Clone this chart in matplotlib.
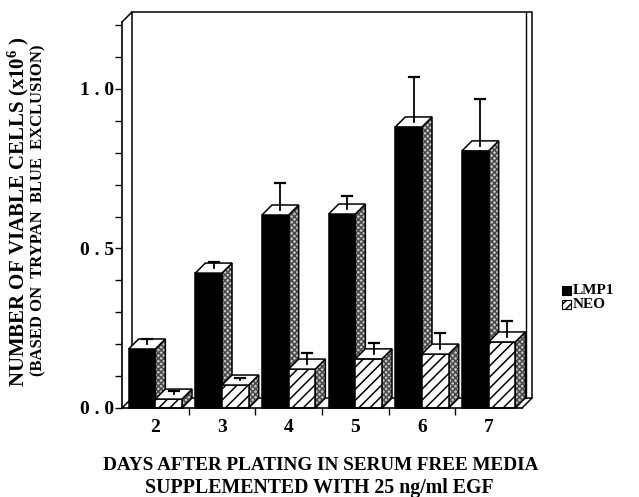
import matplotlib
matplotlib.use('Agg')
import matplotlib.pyplot as plt
from matplotlib.patches import Polygon, Rectangle
from matplotlib.lines import Line2D

# ---------------- data ----------------
days = [2, 3, 4, 5, 6, 7]
lmp1 = [0.185, 0.423, 0.605, 0.608, 0.881, 0.806]
lmp1_err = [0.015, 0.020, 0.085, 0.040, 0.141, 0.147]
neo = [0.028, 0.072, 0.122, 0.154, 0.169, 0.207]
neo_err = [0.010, 0.005, 0.034, 0.034, 0.050, 0.050]
y_major = [0.0, 0.5, 1.0]
y_major_labels = ['0 . 0', '0 . 5', '1 . 0']
y_minor = [0.1, 0.2, 0.3, 0.4, 0.6, 0.7, 0.8, 0.9, 1.1, 1.2]
series_names = ['LMP1', 'NEO']

plt.rcParams['font.family'] = ['Liberation Serif', 'DejaVu Serif']
plt.rcParams['font.weight'] = 'bold'
plt.rcParams['mathtext.fontset'] = 'custom'
plt.rcParams['mathtext.rm'] = 'Liberation Serif:bold'
plt.rcParams['mathtext.bf'] = 'Liberation Serif:bold'
plt.rcParams['mathtext.default'] = 'rm'
plt.rcParams['hatch.linewidth'] = 1.1

W, H = 639, 497
fig = plt.figure(figsize=(W / 100, H / 100), dpi=100)

L, R, B, T = 122, 522, 408, 22
ax = fig.add_axes([L / W, (H - B) / H, (R - L) / W, (B - T) / H])
xmin, xmax = 1.5, 7.5
ymin, ymax = 0.0, 1.21
ax.set_xlim(xmin, xmax)
ax.set_ylim(ymin, ymax)
ax.patch.set_visible(False)

px_x = (xmax - xmin) / (R - L)
px_y = (ymax - ymin) / (B - T)
depth = 10
dx = depth * px_x
dy = depth * px_y

LW = 1.1


def poly(pts, **kw):
    kw.setdefault('linewidth', LW)
    kw.setdefault('edgecolor', 'black')
    p = Polygon(pts, closed=True, clip_on=False, **kw)
    ax.add_patch(p)
    return p


def line(xs, ys, lw=LW, z=1):
    ax.add_line(Line2D(xs, ys, color='black', lw=lw, clip_on=False, zorder=z))


# back wall and box edges
poly([(xmin + dx, dy), (xmin + dx, ymax + dy), (xmax + dx, ymax + dy), (xmax + dx, dy)],
     facecolor='none', zorder=1)
line([xmax + dx - 6 * px_x] * 2, [dy, ymax + dy], lw=1.0)
line([xmin, xmin + dx], [ymax, ymax + dy])
line([xmin, xmin + dx], [0, dy])
line([xmax, xmax + dx], [0, dy])

# bars
bw = 0.4
z = 2
for i, d in enumerate(days):
    for s, (vals, errs) in enumerate([(lmp1, lmp1_err), (neo, neo_err)]):
        v = vals[i]
        e = errs[i]
        x0 = d - bw if s == 0 else d
        x1 = x0 + bw
        side = [(x1, 0), (x1 + dx, dy), (x1 + dx, v + dy), (x1, v)]
        # side face (stippled grey)
        poly(side, facecolor='#c4c4c4', edgecolor='#4a4a4a', linewidth=0,
             hatch='xxxxxx', zorder=z)
        poly(side, facecolor='none', zorder=z + 0.05)
        # front face
        if s == 0:
            poly([(x0, 0), (x1, 0), (x1, v), (x0, v)], facecolor='black', zorder=z + 0.1)
        else:
            poly([(x0, 0), (x1, 0), (x1, v), (x0, v)], facecolor='white', hatch='///',
                 zorder=z + 0.1)
        # top face
        poly([(x0, v), (x1, v), (x1 + dx, v + dy), (x0 + dx, v + dy)], facecolor='white',
             zorder=z + 0.2)
        # error bar
        xc = (x0 + x1) / 2 + dx / 2
        yb = v + dy / 2
        line([xc, xc], [yb, yb + e], lw=1.3, z=z + 0.3)
        line([xc - 5 * px_x, xc + 5 * px_x], [yb + e, yb + e], lw=1.6, z=z + 0.3)
        z += 1

# axes styling
for sp in ['top', 'right']:
    ax.spines[sp].set_visible(False)
ax.spines['left'].set_linewidth(1.2)
ax.spines['bottom'].set_linewidth(1.2)
ax.spines['left'].set_zorder(50)
ax.spines['bottom'].set_zorder(50)

ax.set_yticks(y_major)
ax.set_yticklabels(y_major_labels, fontsize=14, fontweight='bold')
ax.set_yticks(y_minor, minor=True)
ax.tick_params(axis='y', which='both', direction='out', length=5, width=1.0, pad=1)

ax.set_xticks(days)
ax.set_xticklabels([str(d) for d in days], fontsize=14, fontweight='bold')
ax.set_xticks([2.5, 3.5, 4.5, 5.5, 6.5], minor=True)
ax.tick_params(axis='x', which='major', length=0, pad=8)
ax.tick_params(axis='x', which='minor', direction='out', length=5, width=1.0)


def fx(px):
    return px / W


def fy(py):
    return 1 - py / H


# y-axis labels (two lines)
fig.text(fx(18), fy(212), 'NUMBER OF VIABLE CELLS (x10$^{6}$ )', rotation=90,
         ha='center', va='center', fontsize=15, fontweight='bold')
fig.text(fx(38), fy(210), '(BASED ON  TRYPAN  BLUE  EXCLUSION)', rotation=90,
         ha='center', va='center', fontsize=12, fontweight='bold')

# x-axis labels (two lines)
fig.text(fx(321), fy(465), 'DAYS AFTER PLATING IN SERUM FREE MEDIA', ha='center',
         va='center', fontsize=13.8, fontweight='bold')
fig.text(fx(319), fy(488), 'SUPPLEMENTED WITH 25 ng/ml EGF', ha='center',
         va='center', fontsize=14.3, fontweight='bold')

# legend
sq = 9
for k, (name, yy) in enumerate(zip(series_names, [290, 304])):
    if k == 0:
        r = Rectangle((fx(562), fy(yy + sq / 2)), sq / W, sq / H, transform=fig.transFigure,
                      facecolor='black', edgecolor='black', lw=0.8)
    else:
        r = Rectangle((fx(562), fy(yy + sq / 2)), sq / W, sq / H, transform=fig.transFigure,
                      facecolor='white', edgecolor='black', lw=0.8, hatch='////')
    fig.add_artist(r)
    fig.text(fx(573), fy(yy), name, ha='left', va='center', fontsize=11, fontweight='bold')

fig.savefig('out.png', dpi=100)
